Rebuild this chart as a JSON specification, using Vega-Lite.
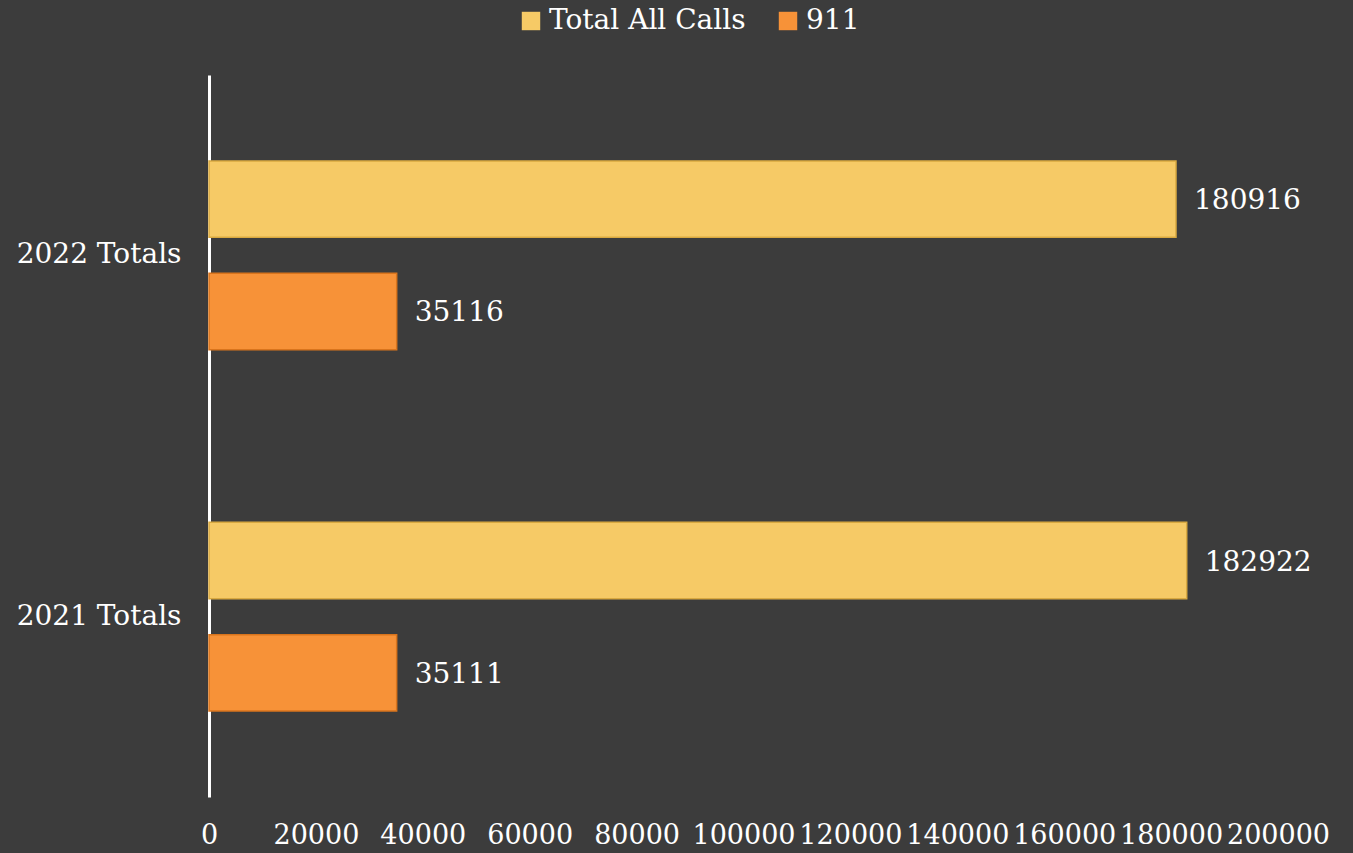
{
  "$schema": "https://vega.github.io/schema/vega-lite/v6.json",
  "width": 1069,
  "height": 722,
  "autosize": {"type": "none"},
  "padding": {"left": 209, "top": 75, "right": 75, "bottom": 56},
  "background": "#3c3c3c",
  "data": {
    "values": [
      {"year": "2022 Totals", "series": "Total All Calls", "calls": 180916},
      {"year": "2022 Totals", "series": "911", "calls": 35116},
      {"year": "2021 Totals", "series": "Total All Calls", "calls": 182922},
      {"year": "2021 Totals", "series": "911", "calls": 35111}
    ]
  },
  "config": {
    "font": "DejaVu Serif",
    "view": {"stroke": null},
    "axis": {"labelFont": "DejaVu Serif", "labelColor": "#ffffff", "labelFontSize": 27, "grid": false, "ticks": false, "title": null},
    "legend": {"labelFont": "DejaVu Serif", "labelColor": "#ffffff", "labelFontSize": 28, "labelLimit": 0}
  },
  "encoding": {
    "y": {
      "field": "year", "type": "nominal",
      "sort": ["2022 Totals", "2021 Totals"],
      "scale": {"paddingInner": 0.478, "paddingOuter": 0.238},
      "axis": {"domainColor": "#ffffff", "domainWidth": 3, "labelPadding": 28, "labelFontSize": 28}
    },
    "yOffset": {
      "field": "series", "type": "nominal",
      "sort": ["Total All Calls", "911"],
      "scale": {"paddingInner": 0.32, "paddingOuter": 0}
    },
    "x": {
      "field": "calls", "type": "quantitative",
      "scale": {"domain": [0, 200000], "nice": false},
      "axis": {"domain": false, "values": [0, 20000, 40000, 60000, 80000, 100000, 120000, 140000, 160000, 180000, 200000], "format": "d", "labelPadding": 25, "labelBaseline": "top", "labelFlush": false, "labelOverlap": false}
    }
  },
  "layer": [
    {
      "mark": {"type": "bar", "strokeWidth": 1.5},
      "encoding": {
        "color": {
          "field": "series", "type": "nominal",
          "sort": ["Total All Calls", "911"],
          "scale": {"domain": ["Total All Calls", "911"], "range": ["#f6ca66", "#f79238"]},
          "legend": {
            "orient": "none", "legendX": 308, "legendY": -68, "direction": "horizontal",
            "title": null, "symbolType": "square", "symbolSize": 340, "symbolStrokeWidth": 0,
            "labelOffset": 4, "columnPadding": 28
          }
        },
        "stroke": {
          "field": "series", "type": "nominal",
          "scale": {"domain": ["Total All Calls", "911"], "range": ["#d9a940", "#d9741c"]},
          "legend": null
        }
      }
    },
    {
      "mark": {"type": "text", "align": "left", "baseline": "middle", "dx": 18, "dy": 2, "fontSize": 28, "color": "#ffffff"},
      "encoding": {"text": {"field": "calls", "type": "quantitative", "format": "d"}}
    }
  ]
}
